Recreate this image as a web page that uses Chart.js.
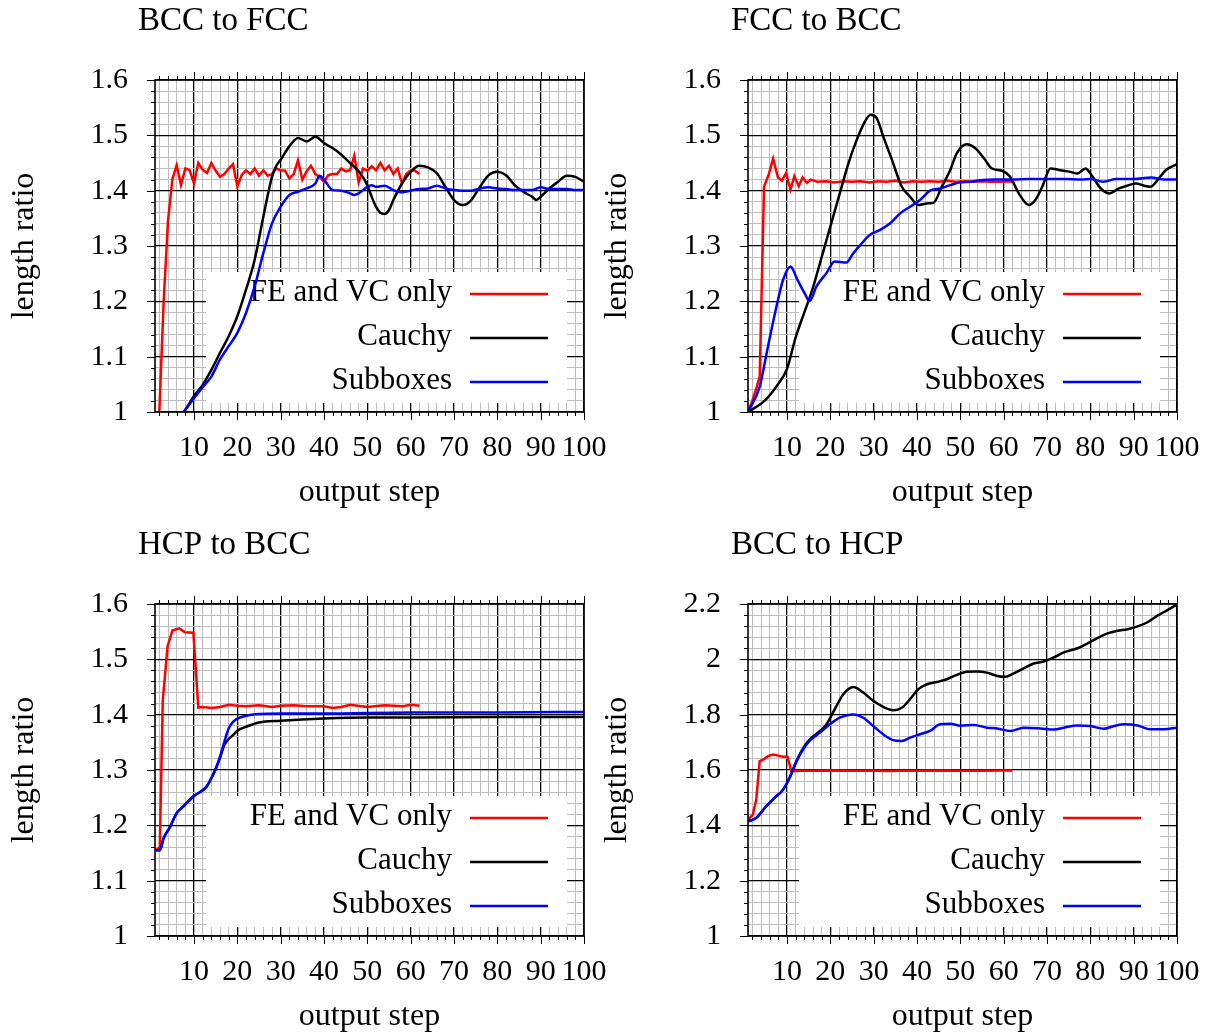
<!DOCTYPE html>
<html>
<head>
<meta charset="utf-8">
<script src="https://cdn.jsdelivr.net/npm/chart.js@4.4.0/dist/chart.umd.min.js"></script>
<style>
html, body { margin: 0; padding: 0; background: #fff; overflow: hidden; }
canvas { position: absolute; }
</style>
</head>
<body>
<canvas id="c1" width="608" height="516" style="left:0px;top:0px"></canvas>
<canvas id="c2" width="608" height="516" style="left:593px;top:0px"></canvas>
<canvas id="c3" width="608" height="516" style="left:0px;top:524px"></canvas>
<canvas id="c4" width="608" height="516" style="left:593px;top:524px"></canvas>
<script>
// series names, same order in every panel
const seriesNames = ['FE and VC only', 'Cauchy', 'Subboxes'];

// BCC to FCC
const fe1X = [2, 3, 4, 5, 6, 7, 8, 9, 10, 11, 12, 13, 14, 15, 16, 17, 18, 19, 20, 21, 22, 23, 24, 25, 26, 27, 28, 29, 30, 31, 32, 33, 34, 35, 36, 37, 38, 39, 40, 41, 42, 43, 44, 45, 46, 47, 48, 49, 50, 51, 52, 53, 54, 55, 56, 57, 58, 59, 60, 61, 62];
const fe1Y = [1.0, 1.2, 1.345, 1.42, 1.446, 1.41, 1.44, 1.437, 1.413, 1.45, 1.438, 1.432, 1.45, 1.436, 1.425, 1.43, 1.44, 1.448, 1.408, 1.428, 1.437, 1.43, 1.44, 1.427, 1.437, 1.427, 1.43, 1.44, 1.437, 1.436, 1.422, 1.43, 1.455, 1.42, 1.435, 1.445, 1.43, 1.425, 1.416, 1.428, 1.43, 1.43, 1.44, 1.435, 1.437, 1.463, 1.415, 1.44, 1.436, 1.444, 1.437, 1.45, 1.437, 1.445, 1.43, 1.44, 1.413, 1.43, 1.437, 1.436, 1.43];
const cau1X = [1, 4, 7, 8, 10, 12, 14, 16, 18, 20, 22, 24, 26, 28, 29, 30, 32, 34, 36, 37, 38, 39, 40, 42, 44, 46, 48, 50, 51, 52, 53, 54, 55, 56, 58, 60, 62, 64, 66, 68, 70, 72, 73, 74, 76, 78, 80, 82, 84, 86, 88, 89, 90, 92, 94, 96, 98, 100];
const cau1Y = [0.93, 0.96, 0.994, 1.004, 1.029, 1.049, 1.076, 1.107, 1.137, 1.173, 1.221, 1.275, 1.353, 1.425, 1.445, 1.456, 1.48, 1.495, 1.489, 1.493, 1.498, 1.493, 1.486, 1.477, 1.465, 1.45, 1.435, 1.41, 1.389, 1.371, 1.36, 1.358, 1.365, 1.383, 1.413, 1.434, 1.445, 1.442, 1.432, 1.407, 1.383, 1.374, 1.376, 1.383, 1.407, 1.428, 1.434, 1.428, 1.41, 1.398, 1.389, 1.383, 1.389, 1.404, 1.416, 1.427, 1.425, 1.416];
const sub1X = [1, 4, 7, 8, 10, 12, 14, 16, 18, 20, 22, 24, 26, 28, 30, 32, 34, 36, 38, 39, 40, 42, 44, 46, 47, 48, 50, 51, 52, 54, 56, 58, 60, 62, 64, 66, 68, 70, 72, 74, 76, 78, 80, 82, 84, 86, 88, 90, 92, 94, 96, 98, 100];
const sub1Y = [0.93, 0.96, 0.994, 1.004, 1.025, 1.045, 1.064, 1.095, 1.119, 1.143, 1.179, 1.227, 1.287, 1.341, 1.371, 1.392, 1.398, 1.404, 1.413, 1.427, 1.42, 1.401, 1.4, 1.395, 1.392, 1.395, 1.407, 1.41, 1.407, 1.409, 1.401, 1.397, 1.4, 1.403, 1.404, 1.409, 1.404, 1.401, 1.4, 1.4, 1.404, 1.406, 1.404, 1.403, 1.401, 1.401, 1.401, 1.406, 1.403, 1.403, 1.403, 1.401, 1.401];

// FCC to BCC
const fe2X = [1, 2, 3, 3.7, 4.7, 5.8, 6.8, 7.9, 8.8, 9.8, 10.8, 11.7, 12.7, 13.6, 14.6, 15.5, 17, 19, 21, 23, 25, 27, 29, 31, 33, 35, 37, 39, 41, 43, 45, 47, 49, 51, 53, 55, 57, 59, 61, 62];
const fe2Y = [1.0, 1.02, 1.045, 1.064, 1.407, 1.43, 1.458, 1.424, 1.418, 1.432, 1.402, 1.426, 1.408, 1.424, 1.414, 1.42, 1.416, 1.417, 1.415, 1.417, 1.416, 1.417, 1.415, 1.417, 1.416, 1.418, 1.415, 1.417, 1.416, 1.417, 1.416, 1.418, 1.416, 1.417, 1.416, 1.417, 1.416, 1.416, 1.417, 1.416];
const cau2X = [1, 4.8, 7.9, 10, 12, 14, 16, 18, 20, 22, 24, 26, 28, 29.3, 30.7, 32.2, 34.2, 36.5, 38.4, 40.3, 42.3, 43.8, 45.7, 47.7, 49.2, 51.5, 53.4, 55.4, 57.3, 59.6, 61.5, 63.5, 65.8, 67.3, 68.9, 70.8, 73.1, 75.4, 77, 78.9, 80, 82.4, 84.3, 86.6, 88.5, 90.5, 92.4, 93.9, 95.5, 97.4, 100];
const cau2Y = [1.0, 1.02, 1.05, 1.078, 1.135, 1.18, 1.225, 1.28, 1.335, 1.39, 1.445, 1.49, 1.525, 1.537, 1.531, 1.498, 1.456, 1.407, 1.389, 1.374, 1.377, 1.378, 1.407, 1.438, 1.468, 1.484, 1.477, 1.459, 1.44, 1.436, 1.425, 1.395, 1.374, 1.383, 1.407, 1.44, 1.437, 1.434, 1.431, 1.44, 1.431, 1.404, 1.395, 1.404, 1.409, 1.413, 1.409, 1.407, 1.419, 1.437, 1.448];
const sub2X = [1, 3.7, 5.6, 6.8, 7.9, 9.1, 10.8, 12.4, 14.1, 15.2, 16.8, 19.1, 21, 23.7, 25.3, 27.6, 29.1, 31.5, 33.8, 36.1, 38.4, 40.7, 43, 45.3, 47.7, 50, 52.3, 54.6, 58, 62, 66, 70, 74, 78, 80, 83, 86, 90, 94, 97, 100];
const sub2Y = [1.0, 1.046, 1.118, 1.163, 1.202, 1.239, 1.263, 1.239, 1.214, 1.2, 1.227, 1.251, 1.272, 1.27, 1.287, 1.308, 1.32, 1.329, 1.341, 1.359, 1.371, 1.383, 1.4, 1.404, 1.41, 1.415, 1.416, 1.419, 1.42, 1.42, 1.421, 1.421, 1.421, 1.42, 1.421, 1.416, 1.421, 1.421, 1.424, 1.42, 1.42];

// HCP to BCC
const fe3X = [1.2, 2.1, 2.8, 3.9, 5, 6.6, 7.9, 9.85, 11, 12, 14, 16, 18, 20, 22, 25, 28, 30, 33, 36, 40, 42, 44, 46, 50, 54, 58, 60, 62];
const fe3Y = [1.155, 1.16, 1.427, 1.523, 1.552, 1.556, 1.549, 1.548, 1.413, 1.414, 1.412, 1.414, 1.418, 1.416, 1.415, 1.417, 1.414, 1.416, 1.417, 1.415, 1.415, 1.412, 1.414, 1.418, 1.414, 1.417, 1.415, 1.418, 1.416];
const cau3X = [1.2, 2.1, 3, 4.46, 6, 7.5, 9.85, 12.9, 14, 15.2, 16, 17, 18, 19, 20, 22, 25, 30, 40, 50, 60, 80, 100];
const cau3Y = [1.155, 1.155, 1.177, 1.197, 1.222, 1.234, 1.252, 1.27, 1.285, 1.306, 1.322, 1.345, 1.356, 1.363, 1.371, 1.378, 1.386, 1.389, 1.393, 1.395, 1.395, 1.396, 1.396];
const sub3X = [1.2, 2.1, 3, 4.46, 6, 7.5, 9.85, 12.9, 14, 15.2, 16, 17, 18, 19, 20, 22, 25, 30, 40, 60, 80, 100];
const sub3Y = [1.155, 1.155, 1.177, 1.197, 1.222, 1.234, 1.252, 1.27, 1.285, 1.306, 1.324, 1.351, 1.375, 1.387, 1.393, 1.398, 1.401, 1.402, 1.402, 1.404, 1.404, 1.405];

// BCC to HCP
const fe4X = [1, 2.1, 2.9, 3.7, 4.6, 5.6, 6.8, 7.9, 9.1, 10.1, 11, 13, 16, 20, 25, 30, 33, 36, 40, 45, 50, 55, 60, 62];
const fe4Y = [1.42, 1.439, 1.493, 1.632, 1.638, 1.65, 1.656, 1.652, 1.648, 1.648, 1.596, 1.597, 1.597, 1.598, 1.597, 1.598, 1.596, 1.597, 1.597, 1.598, 1.597, 1.597, 1.598, 1.598];
const cau4X = [1, 2.9, 5.2, 7.1, 9.1, 10.6, 12.2, 13.7, 15.2, 17.6, 19.1, 20.6, 23, 25.3, 27.6, 29.9, 32.2, 34.5, 36.5, 38.4, 40.3, 42.3, 44.6, 46.9, 49.2, 51.5, 53.8, 56.1, 58.5, 60.4, 62.3, 64.6, 66.9, 69.2, 71.6, 73.9, 77, 79.3, 81.6, 84, 86.3, 88.6, 90.9, 93.2, 95.5, 97.8, 100];
const cau4Y = [1.414, 1.427, 1.469, 1.499, 1.529, 1.572, 1.632, 1.678, 1.71, 1.741, 1.765, 1.807, 1.874, 1.9, 1.88, 1.85, 1.828, 1.816, 1.825, 1.856, 1.892, 1.91, 1.918, 1.928, 1.944, 1.955, 1.956, 1.952, 1.94, 1.937, 1.949, 1.967, 1.985, 1.992, 2.007, 2.025, 2.04, 2.057, 2.077, 2.094, 2.103, 2.109, 2.119, 2.134, 2.158, 2.178, 2.198];
const sub4X = [1, 2.9, 5.2, 7.1, 9.1, 10.6, 12.2, 13.7, 15.2, 17.6, 19.9, 22.2, 25.3, 27.6, 29.9, 32.2, 34.5, 36.5, 38.4, 40.7, 43, 45.3, 47.7, 50, 53.1, 56.1, 58.5, 61.5, 64.6, 68.5, 71.6, 73.9, 77, 80, 83.1, 85.5, 87.8, 90.9, 93.9, 97, 100];
const sub4Y = [1.414, 1.427, 1.469, 1.499, 1.529, 1.572, 1.632, 1.674, 1.705, 1.735, 1.765, 1.789, 1.801, 1.789, 1.759, 1.729, 1.708, 1.705, 1.717, 1.729, 1.741, 1.765, 1.767, 1.76, 1.763, 1.753, 1.75, 1.741, 1.753, 1.75, 1.746, 1.753, 1.761, 1.759, 1.749, 1.759, 1.765, 1.761, 1.747, 1.747, 1.753];

const FONT = "'Liberation Serif', 'Times New Roman', serif";
const lineColors = ['#ff0000', '#000000', '#0000ff'];

function isMajor(v, step) {
    var r = v / step;
    return Math.abs(r - Math.round(r)) < 1e-6;
}

// tick positions for the minor grid (labels only on the major ones)
function tickList(min, max, step) {
    var list = [];
    for (var v = min; v <= max + step / 2; v += step) {
        list.push({ value: Math.round(v * 1000) / 1000 });
    }
    return list;
}

function points(xs, ys) {
    return xs.map(function(x, i) { return { x: x, y: ys[i] }; });
}

// legend box, frame, outer ticks and panel title
const panelDecor = {
    id: 'panelDecor',
    beforeDatasetsDraw: function(chart) {
        var ctx = chart.ctx, a = chart.chartArea;
        ctx.save();
        ctx.fillStyle = '#fff';
        ctx.fillRect(a.right - 378, a.bottom - 140, 361, 131);
        ctx.font = '31px ' + FONT;
        ctx.textAlign = 'right';
        ctx.textBaseline = 'middle';
        chart.data.datasets.forEach(function(ds, i) {
            var y = a.bottom - 118 + i * 44;
            ctx.fillStyle = '#000';
            ctx.fillText(ds.label, a.right - 132, y - 1);
            ctx.strokeStyle = ds.borderColor;
            ctx.lineWidth = 2.5;
            ctx.beginPath();
            ctx.moveTo(a.right - 114, y);
            ctx.lineTo(a.right - 36, y);
            ctx.stroke();
        });
        ctx.restore();
    },
    afterDraw: function(chart, args, opts) {
        var ctx = chart.ctx, a = chart.chartArea;
        var sx = chart.scales.x, sy = chart.scales.y;
        ctx.save();
        ctx.strokeStyle = '#000';
        ctx.lineWidth = 1;
        ctx.beginPath();
        sx.ticks.forEach(function(t) {
            var px = Math.round(sx.getPixelForValue(t.value)) + 0.5;
            var len = isMajor(t.value, 10) ? 8 : 4;
            ctx.moveTo(px, a.top - len); ctx.lineTo(px, a.top);
            ctx.moveTo(px, a.bottom); ctx.lineTo(px, a.bottom + len);
        });
        sy.ticks.forEach(function(t) {
            var py = Math.round(sy.getPixelForValue(t.value)) + 0.5;
            var len = isMajor(t.value, opts.yMajor) ? 8 : 4;
            ctx.moveTo(a.left - len, py); ctx.lineTo(a.left, py);
        });
        ctx.stroke();
        ctx.lineWidth = 1.6;
        ctx.strokeRect(a.left, a.top, a.right - a.left, a.bottom - a.top);
        ctx.fillStyle = '#000';
        ctx.font = '33px ' + FONT;
        ctx.textAlign = 'left';
        ctx.textBaseline = 'alphabetic';
        ctx.fillText(opts.title, 138, 30);
        ctx.restore();
    }
};

function drawPanel(id, title, yMax, yMinor, yMajor, series) {
    var datasets = series.map(function(s, i) {
        return {
            label: seriesNames[i],
            data: points(s[0], s[1]),
            borderColor: lineColors[i],
            borderWidth: 2.5,
            pointRadius: 0,
            tension: i === 0 ? 0 : 0.4,
            cubicInterpolationMode: i === 0 ? 'default' : 'monotone',
            order: 3 - i
        };
    });
    var gridColor = function(step) {
        return function(c) { return isMajor(c.tick.value, step) ? '#000' : '#bdbdbd'; };
    };
    var gridWidth = function(step) {
        return function(c) { return isMajor(c.tick.value, step) ? 1.3 : 1; };
    };
    new Chart(document.getElementById(id), {
        type: 'line',
        data: { datasets: datasets },
        options: {
            responsive: false,
            animation: false,
            layout: { padding: { top: 80, right: 24, bottom: 0, left: 0 } },
            plugins: {
                legend: { display: false },
                tooltip: { enabled: false },
                panelDecor: { title: title, yMajor: yMajor }
            },
            scales: {
                x: {
                    type: 'linear',
                    min: 1,
                    max: 100,
                    bounds: 'data',
                    afterBuildTicks: function(scale) { scale.ticks = tickList(2, 100, 2); },
                    afterFit: function(scale) {
                        scale.height = 104;
                        scale.paddingLeft = 0;
                        scale.paddingRight = 0;
                    },
                    grid: { color: gridColor(10), lineWidth: gridWidth(10), drawTicks: false },
                    border: { display: false },
                    ticks: {
                        autoSkip: false,
                        maxRotation: 0,
                        padding: 18,
                        color: '#000',
                        font: { family: FONT, size: 30 },
                        callback: function(v) { return isMajor(v, 10) ? String(v) : ''; }
                    },
                    title: {
                        display: true,
                        text: 'output step',
                        color: '#000',
                        font: { family: FONT, size: 32 },
                        padding: { top: 0, bottom: 4 }
                    }
                },
                y: {
                    type: 'linear',
                    min: 1,
                    max: yMax,
                    bounds: 'data',
                    afterBuildTicks: function(scale) { scale.ticks = tickList(1, yMax, yMinor); },
                    afterFit: function(scale) {
                        scale.width = 155;
                        scale.paddingTop = 0;
                        scale.paddingBottom = 0;
                    },
                    grid: { color: gridColor(yMajor), lineWidth: gridWidth(yMajor), drawTicks: false },
                    border: { display: false },
                    ticks: {
                        autoSkip: false,
                        padding: 27,
                        color: '#000',
                        font: { family: FONT, size: 30 },
                        callback: function(v) { return isMajor(v, yMajor) ? String(Math.round(v * 10) / 10) : ''; }
                    },
                    title: {
                        display: true,
                        text: 'length ratio',
                        color: '#000',
                        font: { family: FONT, size: 32 },
                        padding: { top: 5, bottom: 0 }
                    }
                }
            }
        },
        plugins: [panelDecor]
    });
}

drawPanel('c1', 'BCC to FCC', 1.6, 0.02, 0.1, [[fe1X, fe1Y], [cau1X, cau1Y], [sub1X, sub1Y]]);
drawPanel('c2', 'FCC to BCC', 1.6, 0.02, 0.1, [[fe2X, fe2Y], [cau2X, cau2Y], [sub2X, sub2Y]]);
drawPanel('c3', 'HCP to BCC', 1.6, 0.02, 0.1, [[fe3X, fe3Y], [cau3X, cau3Y], [sub3X, sub3Y]]);
drawPanel('c4', 'BCC to HCP', 2.2, 0.04, 0.2, [[fe4X, fe4Y], [cau4X, cau4Y], [sub4X, sub4Y]]);
</script>
</body>
</html>
